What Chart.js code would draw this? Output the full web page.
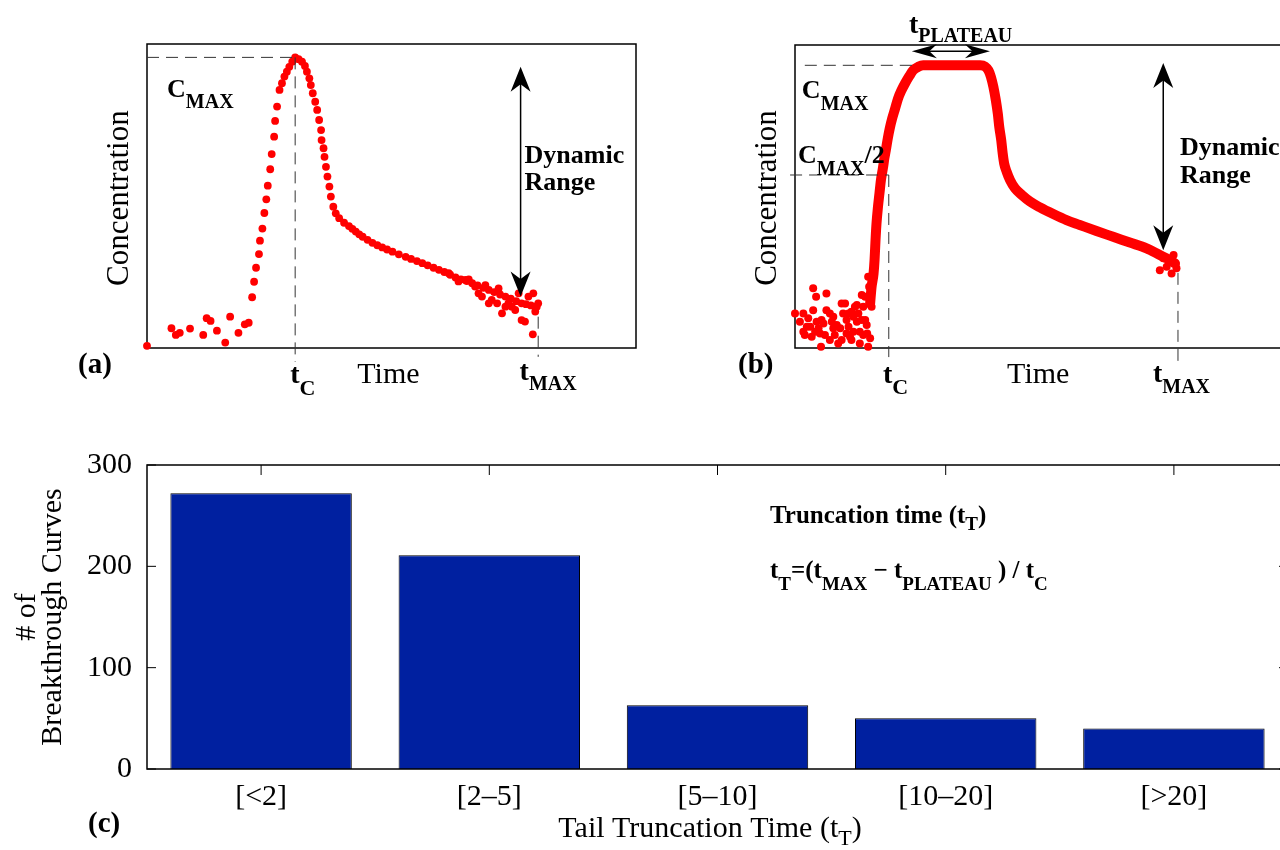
<!DOCTYPE html>
<html>
<head>
<meta charset="utf-8">
<script src="https://cdn.jsdelivr.net/npm/chart.js@4.4.1/dist/chart.umd.min.js"></script>
<style>
  html, body { margin: 0; padding: 0; background: #fff; overflow: hidden; }
  body { position: relative; width: 1280px; height: 850px; }
  canvas { position: absolute; }
  #chartA { left: 0; top: 0; }
  #chartB { left: 640px; top: 0; }
  #chartC { left: 0; top: 440px; }
</style>
</head>
<body>
<canvas id="chartA" width="640" height="420"></canvas>
<canvas id="chartB" width="660" height="420"></canvas>
<canvas id="chartC" width="1290" height="410"></canvas>
<script>
// ---- panel (a): single breakthrough curve, peak then tail (arbitrary units 0-100)
const aTime = [0, 5.0, 5.9, 6.7, 8.8, 11.5, 12.2, 13.0, 14.3, 16.0, 17.0, 18.7, 20.0, 20.8,
  21.5, 21.9, 22.3, 22.9, 23.1, 23.6, 24.0, 24.4, 24.7, 25.2, 25.5, 26.0, 26.2, 26.6, 27.1,
  27.6, 28.1, 28.6, 29.1, 29.7, 30.3,
  31.0, 31.7, 32.3, 32.7, 33.2, 33.5, 33.9, 34.4, 34.8, 35.2, 35.6, 35.7, 36.1, 36.3, 36.6,
  36.9, 37.3, 37.6, 38.1,
  38.6, 39.3, 40.3, 41.3, 42.0, 42.7, 43.4, 44.1, 45.1, 46.1, 47.1, 48.1, 49.1, 50.2, 51.5,
  52.9, 54.0, 55.2, 56.3, 57.4, 58.6, 59.7, 60.8, 62.0, 63.1, 64.2, 65.4, 66.5, 67.6, 68.8,
  69.9, 71.0, 72.2, 73.3, 74.4, 75.5, 76.6, 77.5, 78.5, 79.4,
  61.7, 63.7, 65.1, 65.8, 67.1, 67.8, 68.5, 69.2, 69.9, 70.5, 71.6, 71.9, 72.6, 73.3, 73.9,
  74.6, 75.3, 76.0, 76.6, 77.3, 78.0, 78.9, 79.0, 79.7, 80.0, 79.4];
const aConc = [0.7, 6.5, 4.3, 5.0, 6.4, 4.3, 9.8, 8.9, 5.7, 1.8, 10.3, 5.0, 7.8, 8.3,
  16.7, 21.8, 26.4, 30.9, 35.3, 39.3, 44.4, 48.9, 53.4, 58.8, 63.8, 69.5, 74.7, 79.4, 84.9,
  87.1, 89.3, 90.9, 92.5, 94.2, 95.6,
  95.0, 94.2, 92.8, 90.9, 88.7, 86.5, 83.8, 81.0, 78.3, 75.0, 71.7, 68.4, 65.7, 62.9, 59.6,
  56.4, 53.1, 49.8, 46.5,
  44.3, 42.7, 41.2, 40.1, 39.2, 38.3, 37.4, 36.6, 35.6, 34.6, 33.8, 33.1, 32.4, 31.7, 30.8,
  30.0, 29.3, 28.6, 27.9, 27.2, 26.4, 25.7, 25.0, 24.1, 23.2, 22.6, 22.0, 21.3, 20.6, 19.8,
  19.1, 18.4, 17.6, 16.9, 16.2, 15.4, 14.7, 14.4, 14.0, 13.6,
  24.6, 21.9, 22.4, 22.6, 20.2, 18.0, 16.9, 20.7, 14.7, 15.8, 14.7, 19.6, 11.4, 13.6, 14.7,
  13.6, 12.5, 18.0, 9.2, 8.7, 16.9, 4.5, 18.0, 13.6, 14.7, 12.0];

// ---- panel (b): curve with plateau; noisy baseline + dense band
const bNoiseTime = [0.0, 1.7, 3.7, 4.3, 6.4, 3.7, 5.4, 3.1, 2.0, 1.7, 3.4, 5.1, 5.3, 7.1, 7.8,
  8.1, 8.8, 9.2, 9.8, 10.2, 10.5, 11.2, 11.5, 12.2, 12.6, 12.9, 13.2, 13.6, 13.9, 13.2, 14.9,
  15.3, 14.3, 14.6, 15.3, 15.6, 9.5, 7.1, 5.8, 4.4, 10.5, 11.9, 7.8, 2.7, 6.4, 10.9, 12.6,
  14.9, 15.1, 74.3, 75.7, 76.7, 77.7, 77.1, 75.0,
  1.0, 4.8, 6.1, 7.5, 8.5, 9.5, 10.9, 11.9, 13.6, 13.9, 14.7, 14.3, 2.4, 4.1, 11.5];
const bNoiseConc = [11.4, 11.4, 19.7, 16.9, 18.0, 12.5, 9.2, 7.0, 4.3, 5.4, 3.7, 4.8, 0.4, 2.6, 10.3,
  4.3, 1.5, 6.5, 11.4, 14.7, 9.2, 3.7, 12.0, 13.6, 8.7, 11.4, 5.4, 17.5, 13.6, 1.5, 0.4,
  3.2, 9.2, 7.6, 15.8, 13.6, 14.7, 11.4, 8.1, 8.7, 4.8, 5.4, 6.5, 9.8, 12.5, 11.4, 14.2,
  23.5, 20.2, 25.7, 26.8, 24.6, 26.3, 30.7, 29.6,
  8.7, 6.5, 4.3, 8.7, 7.6, 2.6, 7.0, 10.3, 9.2, 4.3, 4.8, 16.9, 7.0, 5.4, 2.6];
const bTime = [15.3, 15.6, 16.0, 16.2, 16.4, 16.6, 16.9, 17.2, 17.5, 17.9, 18.2, 18.5, 18.9, 19.3,
  19.8, 20.4, 21.0, 21.7, 22.4, 23.3, 24.1, 25.1, 26.1, 27.5, 30.9, 35.0, 37.7, 38.7, 39.4,
  39.9, 40.4, 40.9, 41.3, 41.6, 42.0, 42.3, 42.6, 43.1, 43.8, 44.8, 46.2, 47.9, 49.9, 52.6,
  55.3, 58.0, 61.4, 64.8, 68.2, 71.6, 74.3, 76.4, 77.4];
const bConc = [14.7, 20.2, 24.6, 29.0, 35.6, 41.1, 46.6, 51.0, 55.4, 59.3, 62.6, 65.3, 69.2, 72.5,
  75.8, 79.1, 82.4, 85.1, 87.3, 89.8, 91.7, 92.8, 93.3, 93.3, 93.3, 93.3, 93.3, 92.9, 91.6,
  89.5, 86.2, 81.8, 77.4, 73.0, 68.6, 64.2, 60.9, 58.2, 55.4, 52.7, 50.5, 48.3, 46.4, 44.2,
  42.2, 40.6, 38.6, 36.7, 34.8, 32.9, 30.7, 29.0, 27.9];
// reference marks drawn on (b)
const bHalfLevel = 57.1;
const bTimeC = 19.1;
const bTimeMax = 78.0;
const bPlateau = [23.8, 39.7];

// ---- panel (c): histogram of tail truncation time
const tailBins = ['[<2]', '[2\u20135]', '[5\u201310]', '[10\u201320]', '[>20]'];
const curveCounts = [272, 211, 63, 50, 40];
const countTicks = [0, 100, 200, 300];

const SERIF = '"Liberation Serif", "DejaVu Serif", serif';
const zip = (xs, ys) => xs.map((x, i) => ({ x, y: ys[i] }));

// text with subscripts: parts = [[text, isSub], ...]
function rich(ctx, x, y, parts, o) {
  const w = o.bold ? 'bold ' : '';
  const fontOf = s => `${w}${s ? o.small : o.big}px ${SERIF}`;
  let total = 0;
  parts.forEach(([t, s]) => { ctx.font = fontOf(s); total += ctx.measureText(t).width; });
  let cx = o.align === 'center' ? x - total / 2 : x;
  ctx.textAlign = 'left';
  ctx.textBaseline = 'alphabetic';
  ctx.fillStyle = '#000';
  parts.forEach(([t, s]) => {
    ctx.font = fontOf(s);
    ctx.fillText(t, cx, s ? y + o.drop : y);
    cx += ctx.measureText(t).width;
  });
}

function vtext(ctx, x, y, text, font) {
  ctx.save();
  ctx.translate(x, y);
  ctx.rotate(-Math.PI / 2);
  ctx.font = font;
  ctx.fillStyle = '#000';
  ctx.textAlign = 'center';
  ctx.textBaseline = 'alphabetic';
  ctx.fillText(text, 0, 0);
  ctx.restore();
}

function dashed(ctx, x1, y1, x2, y2) {
  ctx.save();
  ctx.strokeStyle = '#333';
  ctx.lineWidth = 1;
  ctx.setLineDash([12, 7]);
  ctx.beginPath();
  ctx.moveTo(x1, y1);
  ctx.lineTo(x2, y2);
  ctx.stroke();
  ctx.restore();
}

function head(ctx, tx, ty, dx, dy, len, half) {
  const px = -dy, py = dx;
  const bx = tx - dx * len, by = ty - dy * len;
  ctx.beginPath();
  ctx.moveTo(tx, ty);
  ctx.lineTo(bx + px * half, by + py * half);
  ctx.lineTo(tx - dx * len * 0.7, ty - dy * len * 0.7);
  ctx.lineTo(bx - px * half, by - py * half);
  ctx.closePath();
  ctx.fill();
}

function dblArrow(ctx, x1, y1, x2, y2, len, half) {
  const L = Math.hypot(x2 - x1, y2 - y1);
  const dx = (x2 - x1) / L, dy = (y2 - y1) / L;
  ctx.save();
  ctx.strokeStyle = '#000';
  ctx.fillStyle = '#000';
  ctx.lineWidth = 1.5;
  ctx.beginPath();
  ctx.moveTo(x1 + dx * 5, y1 + dy * 5);
  ctx.lineTo(x2 - dx * 5, y2 - dy * 5);
  ctx.stroke();
  head(ctx, x2, y2, dx, dy, len, half);
  head(ctx, x1, y1, -dx, -dy, len, half);
  ctx.restore();
}

function frame(ctx, ca) {
  ctx.save();
  ctx.strokeStyle = '#000';
  ctx.lineWidth = 1.5;
  ctx.strokeRect(ca.left, ca.top, ca.right - ca.left, ca.bottom - ca.top);
  ctx.restore();
}

const curveOptions = (padding) => ({
  responsive: false,
  animation: false,
  events: [],
  layout: { padding },
  plugins: { legend: { display: false }, tooltip: { enabled: false } },
  scales: {
    x: { type: 'linear', min: 0, max: 100, display: false },
    y: { type: 'linear', min: 0, max: 100, display: false }
  }
});

const dotStyle = {
  pointRadius: 3.9,
  pointBackgroundColor: '#ff0000',
  pointBorderColor: '#ff0000',
  pointBorderWidth: 0,
  clip: false
};

// ---------- (a)
const aPeak = aConc.indexOf(Math.max(...aConc));
const aTimeC = aTime[aPeak];
const aConcMax = aConc[aPeak];
const aTimeMax = Math.max(...aTime);

const panelA = {
  id: 'panelA',
  beforeDatasetsDraw(chart) { frame(chart.ctx, chart.chartArea); },
  afterDatasetsDraw(chart) {
    const { ctx, scales: { x, y } } = chart;
    const X = v => x.getPixelForValue(v), Y = v => y.getPixelForValue(v);
    dashed(ctx, X(0), Y(aConcMax), X(aTimeC), Y(aConcMax));
    dashed(ctx, X(aTimeC), Y(aConcMax), X(aTimeC), Y(-4.6));
    dashed(ctx, X(aTimeMax), Y(10.3), X(aTimeMax), Y(-2.9));
    dblArrow(ctx, X(76.4), Y(92.5), X(76.4), Y(16.9), 25, 10);
    rich(ctx, X(4.1), Y(82.6), [['C', 0], ['MAX', 1]], { big: 26, small: 20, drop: 11, bold: true });
    rich(ctx, X(77.2), Y(60.9), [['Dynamic', 0]], { big: 26, bold: true });
    rich(ctx, X(77.2), Y(52.0), [['Range', 0]], { big: 26, bold: true });
    rich(ctx, X(29.3), Y(-11.5), [['t', 0], ['C', 1]], { big: 28, small: 22, drop: 12, bold: true });
    rich(ctx, X(43), Y(-11.5), [['Time', 0]], { big: 30 });
    rich(ctx, X(76.2), Y(-10.5), [['t', 0], ['MAX', 1]], { big: 28, small: 20, drop: 10, bold: true });
    rich(ctx, X(-14.1), Y(-8.2), [['(a)', 0]], { big: 29, bold: true });
    vtext(ctx, X(-3.9), Y(49.3), 'Concentration', `31px ${SERIF}`);
  }
};

new Chart(document.getElementById('chartA'), {
  type: 'scatter',
  data: { datasets: [{ data: zip(aTime, aConc), ...dotStyle }] },
  options: curveOptions({ left: 147, top: 44, right: 2, bottom: 72 }),
  plugins: [panelA]
});

// ---------- (b)
const bConcMax = Math.max(...bConc);

const panelB = {
  id: 'panelB',
  beforeDatasetsDraw(chart) { frame(chart.ctx, chart.chartArea); },
  afterDatasetsDraw(chart) {
    const { ctx, scales: { x, y } } = chart;
    const X = v => x.getPixelForValue(v), Y = v => y.getPixelForValue(v);
    dashed(ctx, X(2), Y(bConcMax), X(bPlateau[0]), Y(bConcMax));
    dashed(ctx, X(-1), Y(bHalfLevel), X(bTimeC), Y(bHalfLevel));
    dashed(ctx, X(bTimeC), Y(bHalfLevel), X(bTimeC), Y(-3.0));
    dashed(ctx, X(bTimeMax), Y(24.8), X(bTimeMax), Y(-6.3));
    dblArrow(ctx, X(75.0), Y(94.1), X(75.0), Y(32.3), 25, 10);
    dblArrow(ctx, X(bPlateau[0]), Y(97.9), X(bPlateau[1]), Y(97.9), 25, 7);
    rich(ctx, X(23.2), Y(104.1), [['t', 0], ['PLATEAU', 1]], { big: 28, small: 20, drop: 9, bold: true });
    rich(ctx, X(1.4), Y(82.4), [['C', 0], ['MAX', 1]], { big: 26, small: 20, drop: 12, bold: true });
    rich(ctx, X(0.6), Y(61.1), [['C', 0], ['MAX', 1], ['/2', 0]], { big: 26, small: 20, drop: 12, bold: true });
    rich(ctx, X(78.4), Y(63.7), [['Dynamic', 0]], { big: 26, bold: true });
    rich(ctx, X(78.4), Y(54.5), [['Range', 0]], { big: 26, bold: true });
    rich(ctx, X(17.9), Y(-11.6), [['t', 0], ['C', 1]], { big: 28, small: 22, drop: 11, bold: true });
    rich(ctx, X(43.2), Y(-11.6), [['Time', 0]], { big: 30 });
    rich(ctx, X(72.9), Y(-11.2), [['t', 0], ['MAX', 1]], { big: 28, small: 20, drop: 11, bold: true });
    rich(ctx, X(-11.6), Y(-8.3), [['(b)', 0]], { big: 29, bold: true });
    vtext(ctx, X(-3.9), Y(49.5), 'Concentration', `31px ${SERIF}`);
  }
};

new Chart(document.getElementById('chartB'), {
  type: 'scatter',
  data: {
    datasets: [
      {
        type: 'line',
        data: zip(bTime, bConc),
        showLine: true,
        borderColor: '#ff0000',
        borderWidth: 10,
        borderCapStyle: 'round',
        borderJoinStyle: 'round',
        cubicInterpolationMode: 'monotone',
        pointRadius: 0,
        clip: false
      },
      { data: zip(bNoiseTime, bNoiseConc), ...dotStyle, pointRadius: 4 }
    ]
  },
  options: curveOptions({ left: 155, top: 45, right: 14, bottom: 72 }),
  plugins: [panelB]
});

// ---------- (c)
const panelC = {
  id: 'panelC',
  beforeDatasetsDraw(chart) {
    const { ctx, chartArea: ca, scales: { x, y } } = chart;
    ctx.save();
    ctx.strokeStyle = '#000';
    ctx.lineWidth = 1;
    ctx.beginPath();
    tailBins.forEach((_, i) => {
      const px = x.getPixelForTick(i);
      ctx.moveTo(px, ca.top); ctx.lineTo(px, ca.top + 10);
      ctx.moveTo(px, ca.bottom); ctx.lineTo(px, ca.bottom - 10);
    });
    countTicks.forEach(v => {
      const py = y.getPixelForValue(v);
      ctx.moveTo(ca.left, py); ctx.lineTo(ca.left + 9, py);
      ctx.moveTo(ca.right, py); ctx.lineTo(ca.right - 9, py);
    });
    ctx.stroke();
    ctx.restore();
  },
  afterDraw(chart) {
    const { ctx, chartArea: ca } = chart;
    frame(ctx, ca);
    rich(ctx, 710, 397, [['Tail Truncation Time (t', 0], ['T', 1], [')', 0]], { big: 30, small: 22, drop: 8, align: 'center' });
    vtext(ctx, 35, (ca.top + ca.bottom) / 2, '# of', `30px ${SERIF}`);
    vtext(ctx, 61, (ca.top + ca.bottom) / 2, 'Breakthrough Curves', `30px ${SERIF}`);
    rich(ctx, 88, 392, [['(c)', 0]], { big: 29, bold: true });
    rich(ctx, 770, 83, [['Truncation time (t', 0], ['T', 1], [')', 0]], { big: 25, small: 19, drop: 7, bold: true });
    rich(ctx, 770, 138, [['t', 0], ['T', 1], ['=(t', 0], ['MAX', 1], [' \u2212 t', 0], ['PLATEAU', 1], [' ) / t', 0], ['C', 1]],
      { big: 25, small: 19, drop: 12, bold: true });
  }
};

new Chart(document.getElementById('chartC'), {
  type: 'bar',
  data: {
    labels: tailBins,
    datasets: [{
      data: curveCounts,
      backgroundColor: '#0020a0',
      borderColor: '#000',
      borderWidth: 1,
      barPercentage: 0.795,
      categoryPercentage: 1
    }]
  },
  options: {
    responsive: false,
    animation: false,
    events: [],
    layout: { padding: { top: 25, right: 2, left: 0, bottom: 0 } },
    plugins: { legend: { display: false }, tooltip: { enabled: false } },
    scales: {
      x: {
        grid: { display: false, drawTicks: false },
        border: { display: false },
        ticks: { color: '#000', font: { family: SERIF, size: 30 }, padding: 10 },
        afterFit(s) { s.height = 81; s.paddingLeft = 0; s.paddingRight = 0; }
      },
      y: {
        min: 0,
        max: 300,
        grid: { display: false, drawTicks: false },
        border: { display: false },
        ticks: { stepSize: 100, color: '#000', font: { family: SERIF, size: 30 }, padding: 15 },
        afterFit(s) { s.width = 147; s.paddingTop = 0; s.paddingBottom = 0; }
      }
    }
  },
  plugins: [panelC]
});
</script>
</body>
</html>
